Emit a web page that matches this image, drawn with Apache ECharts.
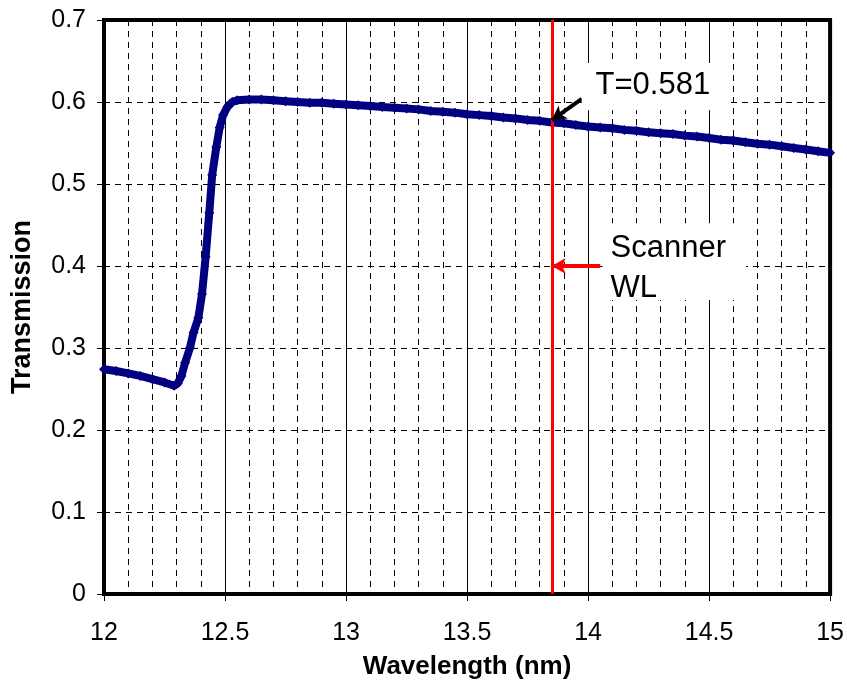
<!DOCTYPE html>
<html>
<head>
<meta charset="utf-8">
<script src="https://cdn.jsdelivr.net/npm/echarts@6/dist/echarts.min.js"></script>
<style>html,body{margin:0;padding:0;background:#fff}#c{width:847px;height:692px}</style>
</head>
<body>
<div id="c"></div>
<script>
// Wavelength (nm)
var wavelength = [12.00,12.05,12.10,12.15,12.20,12.25,12.29,12.305,12.32,12.335,12.355,12.37,12.39,12.405,12.42,12.435,12.447,12.464,12.478,12.492,12.51,12.53,12.55,12.60,12.65,12.70,12.75,12.80,12.85,12.90,12.95,13.00,13.05,13.10,13.15,13.20,13.25,13.30,13.35,13.40,13.45,13.50,13.55,13.60,13.65,13.70,13.75,13.80,13.85,13.90,13.95,14.00,14.05,14.10,14.15,14.20,14.25,14.30,14.35,14.40,14.45,14.50,14.55,14.60,14.65,14.70,14.75,14.80,14.85,14.90,14.95,15.00];
// Transmission
var transmission = [0.274,0.272,0.269,0.266,0.262,0.258,0.254,0.257,0.266,0.282,0.300,0.319,0.337,0.366,0.411,0.465,0.511,0.545,0.569,0.584,0.594,0.600,0.602,0.603,0.603,0.602,0.601,0.600,0.599,0.599,0.598,0.597,0.596,0.595,0.594,0.593,0.592,0.591,0.589,0.588,0.587,0.585,0.584,0.583,0.581,0.580,0.578,0.577,0.575,0.574,0.572,0.570,0.569,0.568,0.566,0.565,0.563,0.562,0.561,0.559,0.558,0.556,0.554,0.553,0.551,0.549,0.548,0.546,0.544,0.542,0.540,0.538];
var xTicks = [12, 12.5, 13, 13.5, 14, 14.5, 15];
var yTicks = [0, 0.1, 0.2, 0.3, 0.4, 0.5, 0.6, 0.7];
var scannerWL = 13.85;
var tLabelText = 'T=0.581';
var scannerText = ['Scanner', 'WL'];
// annotation anchors (data coords)
var blackArrow = [[13.974, 0.6037], [13.85, 0.578]];
var redArrow = [[14.05, 0.4], [13.85, 0.4]];
var tBox = [[13.974, 0.6476], [14.58, 0.590]];
var tTextPos = [14.031, 0.6226];
var sBox = [[14.06, 0.452], [14.653, 0.3585]];
var sTextPos = [[14.093, 0.4244], [14.093, 0.3756]];

var FONT = '"Liberation Sans", Arial, sans-serif';
var chart = echarts.init(document.getElementById('c'));
var data = wavelength.map(function (x, i) { return [x, transmission[i]]; });

chart.setOption({
  animation: false,
  backgroundColor: '#fff',
  grid: { left: 104, right: 15, top: 20, bottom: 98, show: true, borderColor: '#000', borderWidth: 4, backgroundColor: 'transparent' },
  xAxis: {
    type: 'value', min: xTicks[0], max: xTicks[xTicks.length - 1], interval: 0.5,
    name: 'Wavelength (nm)', nameLocation: 'middle', nameGap: 60, nameMoveOverlap: false,
    nameTextStyle: { fontFamily: FONT, fontSize: 26, fontWeight: 'bold', color: '#000' },
    axisLine: { show: true, onZero: false, lineStyle: { color: '#000', width: 4 } },
    axisTick: { show: true, length: 7, lineStyle: { color: '#000', width: 1 } },
    axisLabel: { fontFamily: FONT, fontSize: 25, color: '#000', margin: 27,
      formatter: function (v) { return xTicks.indexOf(+v.toFixed(2)) >= 0 ? String(+v.toFixed(2)) : ''; } },
    splitLine: { show: true, lineStyle: { color: '#000', width: 1, type: 'solid' } },
    minorTick: { show: false, splitNumber: 5 },
    minorSplitLine: { show: true, lineStyle: { color: '#000', width: 1, type: [6, 5] } }
  },
  yAxis: {
    type: 'value', min: yTicks[0], max: yTicks[yTicks.length - 1], interval: 0.1,
    name: 'Transmission', nameLocation: 'middle', nameGap: 68, nameMoveOverlap: false,
    nameTextStyle: { fontFamily: FONT, fontSize: 27, fontWeight: 'bold', color: '#000' },
    axisLine: { show: true, onZero: false, lineStyle: { color: '#000', width: 4 } },
    axisTick: { show: true, length: 7, lineStyle: { color: '#000', width: 1 } },
    axisLabel: { fontFamily: FONT, fontSize: 25, color: '#000', margin: 18,
      formatter: function (v) { return v === 0 ? '0' : (+v.toFixed(1)).toFixed(1); } },
    splitLine: { show: true, lineStyle: { color: '#000', width: 1, type: [6, 5] } }
  },
  series: [{
    type: 'line',
    data: data,
    symbol: 'diamond',
    symbolSize: 10,
    showSymbol: true,
    lineStyle: { color: '#000080', width: 8 },
    itemStyle: { color: '#000080' },
    z: 3,
    markLine: {
      silent: true,
      animation: false,
      label: { show: false },
      symbol: ['none', 'none'],
      data: [
        [{ coord: [scannerWL, yTicks[0]], symbol: 'none', lineStyle: { color: '#ff0000', width: 3, type: 'solid' } },
         { coord: [scannerWL, yTicks[yTicks.length - 1]], symbol: 'none' }],
        [{ coord: redArrow[0], symbol: 'none', lineStyle: { color: '#ff0000', width: 4, type: 'solid' } },
         { coord: redArrow[1], symbol: 'arrow', symbolSize: [12, 14] }],
        [{ coord: blackArrow[0], symbol: 'none', lineStyle: { color: '#000', width: 4, type: 'solid' } },
         { coord: blackArrow[1], symbol: 'arrow', symbolSize: [12, 14] }]
      ]
    }
  }]
});

function px(p) { return chart.convertToPixel({ gridIndex: 0 }, p); }
var tb0 = px(tBox[0]), tb1 = px(tBox[1]), sb0 = px(sBox[0]), sb1 = px(sBox[1]);
var tt = px(tTextPos), s1 = px(sTextPos[0]), s2 = px(sTextPos[1]);
var txtStyle = function (t, p) {
  return { type: 'text', x: p[0], y: p[1], z: 101,
    style: { text: t, fontFamily: FONT, fontSize: 31, fill: '#000', textAlign: 'left', textVerticalAlign: 'middle' } };
};
chart.setOption({
  graphic: [
    { type: 'rect', z: 100, shape: { x: tb0[0], y: tb0[1], width: tb1[0] - tb0[0], height: tb1[1] - tb0[1] }, style: { fill: '#fff' } },
    { type: 'rect', z: 100, shape: { x: sb0[0], y: sb0[1], width: sb1[0] - sb0[0], height: sb1[1] - sb0[1] }, style: { fill: '#fff' } },
    txtStyle(tLabelText, [tt[0], tt[1] + 2]),
    txtStyle(scannerText[0], [s1[0], s1[1] + 2]),
    txtStyle(scannerText[1], [s2[0], s2[1] + 2])
  ]
});
</script>
</body>
</html>
